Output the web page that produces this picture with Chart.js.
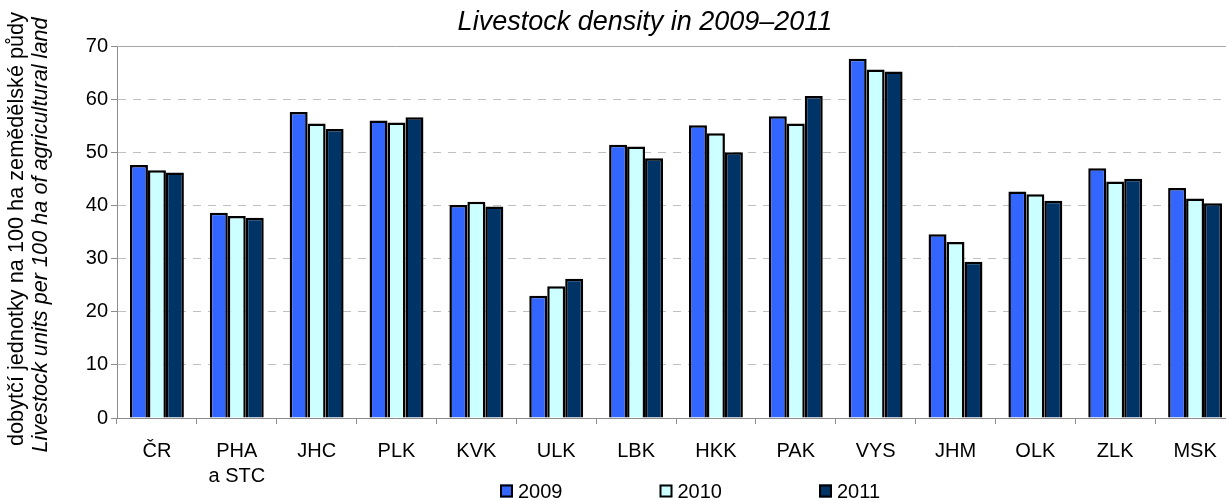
<!DOCTYPE html>
<html>
<head>
<meta charset="utf-8">
<script src="https://cdn.jsdelivr.net/npm/chart.js@4/dist/chart.umd.min.js"></script>
<style>
  html, body { margin:0; padding:0; background:#fff; overflow:hidden; }
  #wrap { width:1236px; height:501px; position:relative; }
</style>
</head>
<body>
<div id="wrap"><canvas id="chartLSU"></canvas></div>
<script>
// kraje
const regions = ['ČR', ['PHA', 'a STC'], 'JHC', 'PLK', 'KVK', 'ULK', 'LBK', 'HKK', 'PAK', 'VYS', 'JHM', 'OLK', 'ZLK', 'MSK'];
const years   = ['2009', '2010', '2011'];

const lsu2009 = [47.6, 38.6, 57.6, 56.0, 40.1, 23.0, 51.4, 55.1, 56.8, 67.6, 34.6, 42.6, 47.0, 43.3];
const lsu2010 = [46.6, 38.0, 55.4, 55.6, 40.7, 24.8, 51.1, 53.6, 55.4, 65.6, 33.1, 42.1, 44.5, 41.3];
const lsu2011 = [46.2, 37.7, 54.4, 56.6, 39.8, 26.2, 48.9, 50.0, 60.6, 65.2, 29.4, 40.9, 45.0, 40.4];

const yTicks = [0, 10, 20, 30, 40, 50, 60, 70];

const titleText = 'Livestock density in 2009–2011';
const yTitleCz  = 'dobytčí jednotky na 100 ha zemědělské půdy';
const yTitleEn  = 'Livestock units per 100 ha of agricultural land';

const FONT = '"Liberation Sans", Arial, sans-serif';
const colors = ['#3366FF', '#CCFFFF', '#003366'];

// nadpis, popisek osy y, horni linka a legenda
const decor = {
  id: 'decor',
  afterDraw(chart) {
    const ctx = chart.ctx;
    const ca  = chart.chartArea;
    ctx.save();

    // horni okraj grafu
    ctx.strokeStyle = '#a6a6a6';
    ctx.lineWidth = 1;
    ctx.setLineDash([]);
    ctx.beginPath();
    ctx.moveTo(ca.left, ca.top + 0.5);
    ctx.lineTo(ca.right, ca.top + 0.5);
    ctx.stroke();

    ctx.fillStyle = '#000';
    ctx.textAlign = 'center';
    ctx.textBaseline = 'alphabetic';
    ctx.font = 'italic 27px ' + FONT;
    ctx.fillText(titleText, 645, 30);

    // osa y
    const cy = (ca.top + ca.bottom) / 2;
    ctx.save();
    ctx.translate(23, cy - 3);
    ctx.rotate(-Math.PI / 2);
    ctx.font = '21.7px ' + FONT;
    ctx.fillText(yTitleCz, 0, 0);
    ctx.restore();
    ctx.save();
    ctx.translate(47, cy + 3);
    ctx.rotate(-Math.PI / 2);
    ctx.font = 'italic 21.7px ' + FONT;
    ctx.fillText(yTitleEn, 0, 0);
    ctx.restore();

    // legenda
    ctx.font = '20px ' + FONT;
    ctx.textAlign = 'left';
    ctx.textBaseline = 'middle';
    chart.data.datasets.forEach((ds, i) => {
      const x = 500 + i * 159.5;
      const y = 491;
      ctx.fillStyle = ds.backgroundColor;
      ctx.fillRect(x, y - 6.5, 13, 13);
      ctx.strokeStyle = '#000';
      ctx.lineWidth = 2;
      ctx.strokeRect(x + 1, y - 5.5, 11, 11);
      ctx.fillStyle = '#000';
      ctx.fillText(ds.label, x + 18, y + 1);
    });
    ctx.restore();
  }
};

const ctx = document.getElementById('chartLSU').getContext('2d');
new Chart(ctx, {
  type: 'bar',
  data: {
    labels: regions,
    datasets: [
      { label: years[0], data: lsu2009, backgroundColor: colors[0] },
      { label: years[1], data: lsu2010, backgroundColor: colors[1] },
      { label: years[2], data: lsu2011, backgroundColor: colors[2] }
    ].map(d => Object.assign(d, {
      borderColor: '#000',
      borderWidth: 2.5,
      categoryPercentage: 0.675,
      barPercentage: 1.0,
      borderSkipped: 'bottom'
    }))
  },
  options: {
    responsive: true,
    maintainAspectRatio: false,
    animation: false,
    layout: { padding: { top: 46, left: 0, right: 1, bottom: 0 } },
    plugins: {
      legend: { display: false },
      title: { display: false },
      tooltip: { enabled: false }
    },
    scales: {
      x: {
        grid: {
          offset: true,
          drawOnChartArea: false,
          drawTicks: true,
          tickLength: 6,
          color: '#8c8c8c'
        },
        border: { color: '#8c8c8c', width: 1 },
        ticks: {
          color: '#000',
          padding: 15,
          maxRotation: 0,
          autoSkip: false,
          font: { family: FONT, size: 20, lineHeight: 1.25 }
        },
        afterFit: s => { s.height = 83; }
      },
      y: {
        min: 0,
        max: 70,
        afterBuildTicks: s => { s.ticks = yTicks.map(v => ({ value: v })); },
        grid: {
          color: '#c0c0c0',
          tickColor: '#8c8c8c',
          tickLength: 6,
          tickBorderDash: [],
          lineWidth: 1
        },
        border: { color: '#8c8c8c', width: 1, dash: [8, 7] },
        ticks: {
          color: '#000',
          padding: 3,
          font: { family: FONT, size: 20 }
        },
        afterFit: s => { s.width = 117; }
      }
    }
  },
  plugins: [decor]
});
</script>
</body>
</html>
